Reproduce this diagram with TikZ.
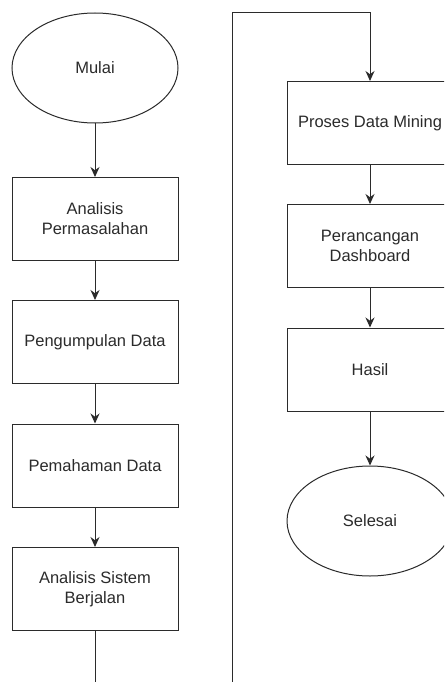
\documentclass[tikz,border=0pt]{standalone}
\usepackage{fontspec}
\setmainfont{Liberation Sans}
\usetikzlibrary{shapes.geometric,arrows.meta}
\definecolor{garis}{HTML}{2B2B2B}
\tikzset{
  proses/.style={draw=garis, line width=1pt, rectangle, minimum width=166pt, minimum height=83pt, align=center, text=garis, font=\fontsize{16.5}{20}\selectfont},
  terminal/.style={draw=garis, line width=1pt, ellipse, minimum width=166pt, minimum height=110pt, text=garis, font=\fontsize{16.5}{20}\selectfont},
  panah/.style={draw=garis, line width=1pt, -{Stealth[length=10pt,width=9pt]}},
  garisbiasa/.style={draw=garis, line width=1pt}
}
\begin{document}
\begin{tikzpicture}[x=1pt,y=-1pt]
  \clip (0,0) rectangle (444,682);
  \fill[white] (0,0) rectangle (444,682);

  \node[terminal] (mulai) at (95,68) {Mulai};
  \node[proses] (masalah) at (95,219) {Analisis\\Permasalahan};
  \node[proses] (kumpul) at (95,342) {Pengumpulan Data};
  \node[proses] (paham) at (95,465.5) {Pemahaman Data};
  \node[proses] (sistem) at (95,589) {Analisis Sistem\\Berjalan};

  \node[proses] (mining) at (370,123) {Proses Data Mining};
  \node[proses] (dashboard) at (370,246) {Perancangan\\Dashboard};
  \node[proses] (hasil) at (370,369.5) {Hasil};
  \node[terminal] (selesai) at (370,521) {Selesai};

  \foreach \a/\b in {mulai/masalah, masalah/kumpul, kumpul/paham, paham/sistem,
    mining/dashboard, dashboard/hasil, hasil/selesai} {
   \draw[panah] (\a) -- (\b);
  }

  \coordinate (bawahkiri) at (95,690);
  \coordinate (bawahkanan) at (232,690);
  \coordinate (atas) at (232,13);
  \draw[garisbiasa] (sistem) -- (bawahkiri);
  \draw[panah] (bawahkanan) -- (atas) -| (mining);
 \end{tikzpicture}
\end{document}
